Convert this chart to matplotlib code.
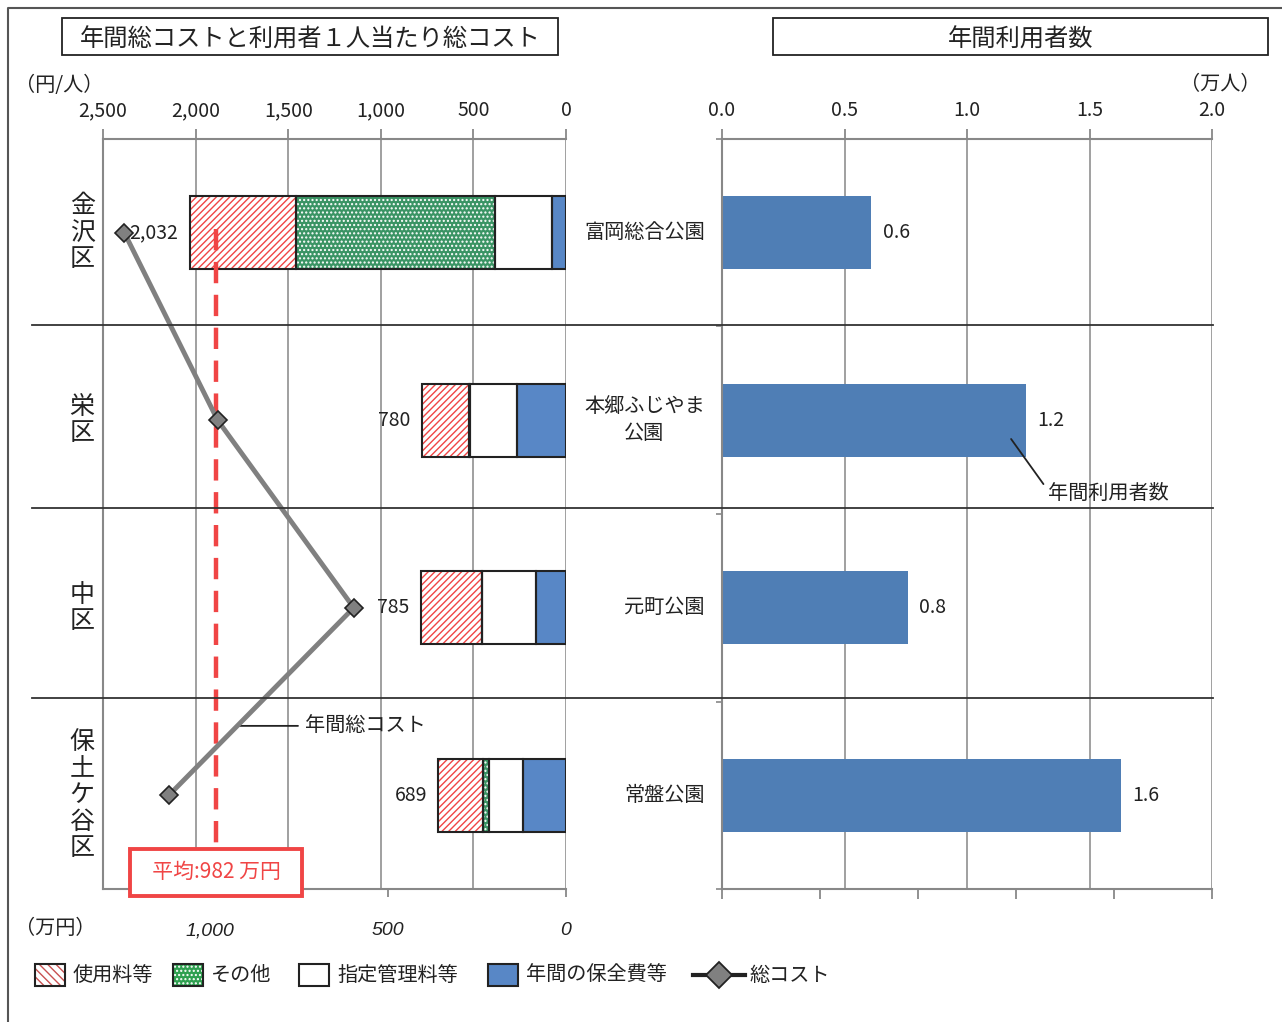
import matplotlib.pyplot as plt
import numpy as np
from matplotlib import transforms
from matplotlib.lines import Line2D
from matplotlib.patches import Rectangle
from matplotlib.ticker import FuncFormatter

plt.rcParams['font.family'] = ['Noto Sans CJK JP', 'DejaVu Sans']
plt.rcParams['hatch.linewidth'] = 1.0

# data
wards = ['金沢区', '栄区', '中区', '保土ケ谷区']
parks = ['富岡総合公園', '本郷ふじやま\n公園', '元町公園', '常盤公園']
fee = [572, 254, 331, 243]        # 使用料等 (円/人)
other = [1075, 5, 0, 32]          # その他
mgmt = [308, 259, 292, 180]       # 指定管理料等
upkeep = [77, 262, 162, 234]      # 年間の保全費等
per_user_total = [2032, 780, 785, 689]
total_cost = [1240, 978, 596, 1115]   # 年間総コスト (万円)
users = [0.61, 1.24, 0.76, 1.63]      # 年間利用者数 (万人)
avg_cost = 982

RED = '#f04545'
GREEN = '#3a9464'
BLUE_L = '#5887c6'
BLUE_R = '#4f7eb5'
GRID = '#999999'
INK = '#222222'
W, H = 1282, 1022

fig = plt.figure(figsize=(12.82, 10.22), dpi=100)
ax = fig.add_axes([103 / W, 1 - 889 / H, 463 / W, 750 / H])
ax3 = fig.add_axes([722 / W, 1 - 889 / H, 490 / W, 750 / H])
ax2 = ax.twiny()   # total cost (万円), bottom scale

y = np.arange(len(wards))
bh = 0.39

# ---- left panel: per-user cost (stacked) ----
segments = [
    (upkeep, BLUE_L, None, BLUE_L),
    (mgmt, 'white', None, 'white'),
    (other, GREEN, '....', 'white'),
    (fee, 'white', '/////', RED),
]
left = np.zeros(len(wards))
for vals, fc, hatch, hc in segments:
    vals = np.array(vals)
    ax.barh(y, vals, left=left, height=bh, color=fc, edgecolor=hc,
            hatch=hatch, linewidth=0, zorder=2)
    ax.barh(y, vals, left=left, height=bh, fill=False, edgecolor=INK,
            linewidth=1.5, zorder=3)
    left += vals

for yi, v in zip(y, per_user_total):
    ax.annotate(f'{v:,}', xy=(v, yi), xytext=(-8, 0), textcoords='offset points',
                ha='right', va='center', fontsize=14, color=INK)

ax.set_xlim(2500, 0)
ax.set_ylim(3.5, -0.5)
ax.set_xticks(np.arange(0, 2501, 500))
ax.xaxis.set_major_formatter(FuncFormatter(lambda v, p: f'{v:,.0f}'))
ax.xaxis.tick_top()
ax.tick_params(axis='x', direction='out', length=7, width=1.3, color='#888888',
               labelsize=14, pad=6, labelcolor=INK)
ax.set_yticks([])
ax.grid(axis='x', color=GRID, linewidth=1.3)
ax.set_axisbelow(True)
for s in ['left', 'top', 'bottom']:
    ax.spines[s].set_visible(True)
    ax.spines[s].set_color('#888888')
    ax.spines[s].set_linewidth(1.5)
ax.spines['right'].set_visible(False)

tr = transforms.blended_transform_factory(ax.transAxes, ax.transData)
for yi, w in zip(y, wards):
    ax.text(-0.045, yi, '\n'.join(w), transform=tr, ha='center', va='center',
            fontsize=18, linespacing=1.02, color=INK)

# ---- total cost line on twin axis ----
ax2.set_xlim(1300, 0)
ax2.set_ylim(3.5, -0.5)
ax2.plot(total_cost, y, color='#808080', linewidth=3.5, marker='D', markersize=9,
         markerfacecolor='#808080', markeredgecolor=INK, markeredgewidth=1.2,
         zorder=5)
ax2.plot([avg_cost, avg_cost], [-0.02, 3.28], color=RED, linewidth=3.2,
         linestyle=(0, (4.8, 2.6)), zorder=4)
ax2.text(avg_cost, 3.41, '  平均:982 万円  ', ha='center', va='center', fontsize=15,
         color=RED, zorder=6,
         bbox=dict(boxstyle='square,pad=0.6', facecolor='white', edgecolor=RED,
                   linewidth=2.8))
ax2.xaxis.tick_bottom()
ax2.set_xticks([0, 500, 1000])
ax2.xaxis.set_major_formatter(FuncFormatter(lambda v, p: f'{v:,.0f}'))
ax2.tick_params(axis='x', direction='out', length=6, width=1.3, color='#888888',
                labelsize=14, pad=18, labelcolor=INK)
for lab in ax2.get_xticklabels():
    lab.set_fontstyle('italic')
    lab.set_family('Liberation Sans')
for s in ax2.spines.values():
    s.set_visible(False)

ann_y = 2.63
ax2.annotate('年間総コスト', xy=(np.interp(ann_y, y, total_cost), ann_y),
             xytext=(733, ann_y), ha='left', va='center', fontsize=14.5,
             color=INK,
             arrowprops=dict(arrowstyle='-', color=INK, lw=1.3,
                             shrinkA=3, shrinkB=0, relpos=(0, 0.5)))

# ---- right panel: annual users ----
ax3.barh(y, users, height=bh, color=BLUE_R, zorder=2)
for yi, v in zip(y, users):
    ax3.annotate(f'{v:.1f}', xy=(v, yi), xytext=(8, 0), textcoords='offset points',
                 ha='left', va='center', fontsize=14, color=INK)
ax3.set_xlim(0, 2)
ax3.set_ylim(3.5, -0.5)
ax3.set_xticks(np.arange(0, 2.01, 0.5))
ax3.xaxis.set_major_formatter(FuncFormatter(lambda v, p: f'{v:.1f}'))
ax3.xaxis.tick_top()
ax3.tick_params(axis='x', direction='out', length=7, width=1.3, color='#888888',
                labelsize=14, pad=6, labelcolor=INK)
ax3.set_yticks([-0.5, 0.5, 1.5, 2.5, 3.5])
ax3.set_yticklabels([])
ax3.tick_params(axis='y', direction='out', length=4, width=1.2, color='#888888')
ax3.grid(axis='x', color=GRID, linewidth=1.3)
ax3.set_axisbelow(True)
for s in ['left', 'top', 'bottom']:
    ax3.spines[s].set_color('#888888')
    ax3.spines[s].set_linewidth(1.5)
ax3.spines['right'].set_visible(False)
sec = ax3.secondary_xaxis('bottom')
sec.set_xticks(np.arange(0, 2.01, 0.4))
sec.set_xticklabels([])
sec.tick_params(axis='x', direction='out', length=7, width=1.3, color='#888888')
sec.spines['bottom'].set_visible(False)

tr3 = transforms.blended_transform_factory(ax3.transAxes, ax3.transData)
for yi, p in zip(y, parks):
    ax3.text(-0.035, yi, p, transform=tr3, ha='right', va='center',
             multialignment='center', fontsize=14.5, linespacing=1.4, color=INK)

ax3.annotate('年間利用者数', xy=(1.18, 1.1), xytext=(1.33, 1.39), ha='left',
             va='center', fontsize=14.5, color=INK,
             arrowprops=dict(arrowstyle='-', color=INK, lw=1.3,
                             shrinkA=2, shrinkB=0, relpos=(0, 0.65)))

# ---- separators between wards ----
trs = transforms.blended_transform_factory(fig.transFigure, ax.transData)
for b in [0.49, 1.47, 2.48]:
    fig.add_artist(Line2D([32 / W, 1213 / W], [b, b], transform=trs,
                          color='#333333', linewidth=1.3, zorder=1))

# ---- titles, unit labels, frame ----
for x0, x1, title in [(62, 558, '年間総コストと利用者１人当たり総コスト'),
                      (773, 1268, '年間利用者数')]:
    fig.add_artist(Rectangle((x0 / W, 1 - 55 / H), (x1 - x0) / W, 37 / H,
                             transform=fig.transFigure, fill=False,
                             edgecolor=INK, linewidth=1.3))
    fig.text((x0 + x1) / 2 / W, 1 - 40 / H, title, ha='center', va='center',
             fontsize=17.5, color=INK)

fig.text(15 / W, 1 - 85 / H, '（円/人）', ha='left', va='center', fontsize=14.5,
         color=INK)
fig.text(1260 / W, 1 - 85 / H, '（万人）', ha='right', va='center', fontsize=14.5,
         color=INK)
fig.text(15 / W, 1 - 928 / H, '（万円）', ha='left', va='center', fontsize=14.5,
         color=INK)

fig.add_artist(Line2D([8 / W, 8 / W, 1], [0, 1 - 8 / H, 1 - 8 / H],
                      transform=fig.transFigure, color='#555555', linewidth=1.5))

# ---- legend (laid out by hand) ----
ly = 1 - 975 / H
bw, bhh = 30 / W, 22 / H
legend_boxes = [
    (35, 'white', '\\\\\\\\', '#c85050', '使用料等'),
    (173, '#2fa050', '....', 'white', 'その他'),
    (299, 'white', None, 'white', '指定管理料等'),
    (488, BLUE_L, None, BLUE_L, '年間の保全費等'),
]
for x0, fc, hatch, hc, lab in legend_boxes:
    fig.add_artist(Rectangle((x0 / W, ly - bhh / 2), bw, bhh, transform=fig.transFigure,
                             facecolor=fc, edgecolor=hc, hatch=hatch, linewidth=0))
    fig.add_artist(Rectangle((x0 / W, ly - bhh / 2), bw, bhh, transform=fig.transFigure,
                             fill=False, edgecolor=INK, linewidth=1.5))
    fig.text((x0 + 38) / W, ly, lab, ha='left', va='center', fontsize=14.5, color=INK)
fig.add_artist(Line2D([693 / W, 745 / W], [ly, ly], transform=fig.transFigure,
                      color=INK, linewidth=3))
fig.add_artist(Line2D([719 / W], [ly], transform=fig.transFigure, marker='D',
                      markersize=13, markerfacecolor='#808080', markeredgecolor=INK,
                      markeredgewidth=1.3, linestyle='none'))
fig.text(749 / W, ly, '総コスト', ha='left', va='center', fontsize=14.5, color=INK)

fig.savefig('out.png', dpi=100)
